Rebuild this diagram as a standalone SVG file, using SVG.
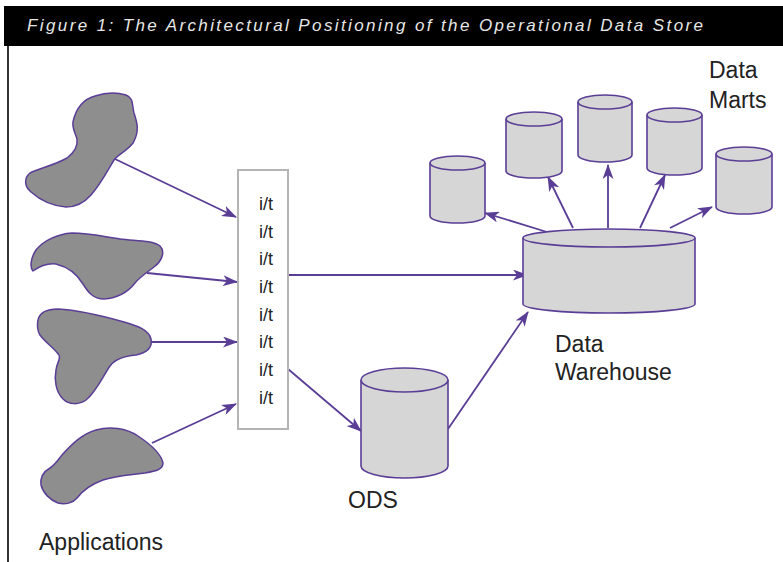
<svg xmlns="http://www.w3.org/2000/svg" width="783" height="562" viewBox="0 0 783 562">
<style>
.blob{fill:#8e8e8e;stroke:#5a3e96;stroke-width:1.5;stroke-linejoin:round}
.cyl{fill:#d6d6d6;stroke:#5a3e96;stroke-width:1.6}
.conn{stroke:#5a3e96;stroke-width:1.8;fill:none;marker-end:url(#ah)}
.lbl{font-family:"Liberation Sans",Arial,sans-serif;font-size:23px;fill:#222}
.it{font-family:"Liberation Sans",Arial,sans-serif;font-size:18px;fill:#222;text-anchor:middle}
</style>
<defs>
<marker id="ah" viewBox="0 0 15 11" refX="14" refY="5.5" markerWidth="15" markerHeight="11" markerUnits="userSpaceOnUse" orient="auto">
<path d="M0,0 L15,5.5 L0,11 L4,5.5 z" fill="#5a3e96"/>
</marker>
</defs>
<rect x="0" y="0" width="783" height="562" fill="#fff"/>
<g id="header">
<rect x="4" y="6" width="779" height="40" fill="#000"/>
<text x="27" y="31" font-family="'Liberation Sans',Arial,sans-serif" font-size="17" font-style="italic" fill="#e6e6e6" textLength="676" lengthAdjust="spacing">Figure 1:  The Architectural Positioning of the Operational Data Store</text>
<line x1="8" y1="46" x2="8" y2="562" stroke="#000" stroke-width="1.6"/>
</g>
<g id="connectors">
<line class="conn" x1="115" y1="159" x2="236" y2="217"/>
<line class="conn" x1="147" y1="273" x2="237" y2="282"/>
<line class="conn" x1="152" y1="342" x2="237" y2="342"/>
<line class="conn" x1="152" y1="443" x2="236" y2="404"/>
<line class="conn" x1="288" y1="275" x2="527" y2="275"/>
<line class="conn" x1="288" y1="369" x2="361" y2="431"/>
<line class="conn" x1="448" y1="429" x2="528" y2="312"/>
<line class="conn" x1="547" y1="232" x2="485" y2="213"/>
<line class="conn" x1="573" y1="228" x2="548" y2="177"/>
<line class="conn" x1="608" y1="228" x2="608" y2="165"/>
<line class="conn" x1="640" y1="228" x2="665" y2="175"/>
<line class="conn" x1="670" y1="228" x2="712" y2="207"/>
</g>
<g id="app1"><path class="blob" d="M73,122 C76,108 84,99 95,96 C104,93 116,92 126,95 C134,98 132,106 134,113 C137,122 140,131 133,143 C126,152 118,154 114,160 C108,170 100,185 91,195 C84,203 76,207 66,207 C53,206 40,200 31,192 C24,186 24,178 30,173 C40,168 55,165 67,158 C75,152 78,146 77,139 C75,132 72,128 73,122 Z"/></g>
<g id="app2"><path class="blob" d="M36,250 C44,240 58,234 72,233 C90,233 105,237 120,239 C135,241 152,240 160,246 C166,252 161,262 154,267 C146,273 140,277 135,283 C128,292 117,298 104,299 C93,299 88,292 83,284 C77,274 68,267 56,264 C47,263 40,266 33,271 C30,268 30,259 36,250 Z"/></g>
<g id="app3"><path class="blob" d="M38,320 C40,311 48,309 58,309 C78,310 103,316 124,322 C138,326 149,330 151,339 C153,348 146,353 136,355 C125,356 115,359 110,366 C103,376 96,392 86,400 C79,405 69,405 63,399 C56,392 54,380 56,370 C57,362 61,359 59,355 C54,348 45,342 40,335 C37,330 37,325 38,320 Z"/></g>
<g id="app4"><path class="blob" d="M62,455 C72,444 82,434 96,430 C110,426 126,428 138,436 C150,444 161,453 163,463 C163,469 157,471 145,473 C130,475 115,476 103,480 C92,484 83,490 77,498 C73,503 65,505 58,503 C50,500 43,493 41,485 C40,477 43,472 50,468 C55,465 58,460 62,455 Z"/></g>
<g id="it-box">
<rect x="238" y="170" width="50" height="259" fill="#fff" stroke="#b4b4b4" stroke-width="2"/>
<text class="it" x="266" y="210">i/t</text>
<text class="it" x="266" y="238">i/t</text>
<text class="it" x="266" y="265">i/t</text>
<text class="it" x="266" y="293">i/t</text>
<text class="it" x="266" y="321">i/t</text>
<text class="it" x="266" y="348">i/t</text>
<text class="it" x="266" y="376">i/t</text>
<text class="it" x="266" y="404">i/t</text>
</g>
<g id="ods">
<path class="cyl" d="M361,380 L361,466 A43.5,12 0 0 0 448,466 L448,380"/>
<ellipse class="cyl" cx="404.5" cy="380" rx="43.5" ry="12"/>
<text class="lbl" x="373" y="508" text-anchor="middle">ODS</text>
</g>
<g id="data-warehouse">
<path class="cyl" d="M523,238 L523,304 A86,9 0 0 0 695,304 L695,238"/>
<ellipse class="cyl" cx="609" cy="238" rx="86" ry="9"/>
<text class="lbl" x="555" y="352">Data</text>
<text class="lbl" x="555" y="380">Warehouse</text>
</g>
<g id="dm1">
<path class="cyl" d="M430,163 L430,216 A27.5,7 0 0 0 485,216 L485,163"/>
<ellipse class="cyl" cx="457.5" cy="163" rx="27.5" ry="7"/>
</g>
<g id="dm2">
<path class="cyl" d="M506,119 L506,171 A28,7 0 0 0 562,171 L562,119"/>
<ellipse class="cyl" cx="534" cy="119" rx="28" ry="7"/>
</g>
<g id="dm3">
<path class="cyl" d="M578,102 L578,155 A27,7 0 0 0 632,155 L632,102"/>
<ellipse class="cyl" cx="605" cy="102" rx="27" ry="7"/>
</g>
<g id="dm4">
<path class="cyl" d="M647,115 L647,168 A27.5,7 0 0 0 702,168 L702,115"/>
<ellipse class="cyl" cx="674.5" cy="115" rx="27.5" ry="7"/>
</g>
<g id="dm5">
<path class="cyl" d="M716,154 L716,207 A28,7 0 0 0 772,207 L772,154"/>
<ellipse class="cyl" cx="744" cy="154" rx="28" ry="7"/>
</g>
<g id="labels">
<text class="lbl" x="709" y="78">Data</text>
<text class="lbl" x="709" y="108">Marts</text>
<text class="lbl" x="39" y="550">Applications</text>
</g>
</svg>
